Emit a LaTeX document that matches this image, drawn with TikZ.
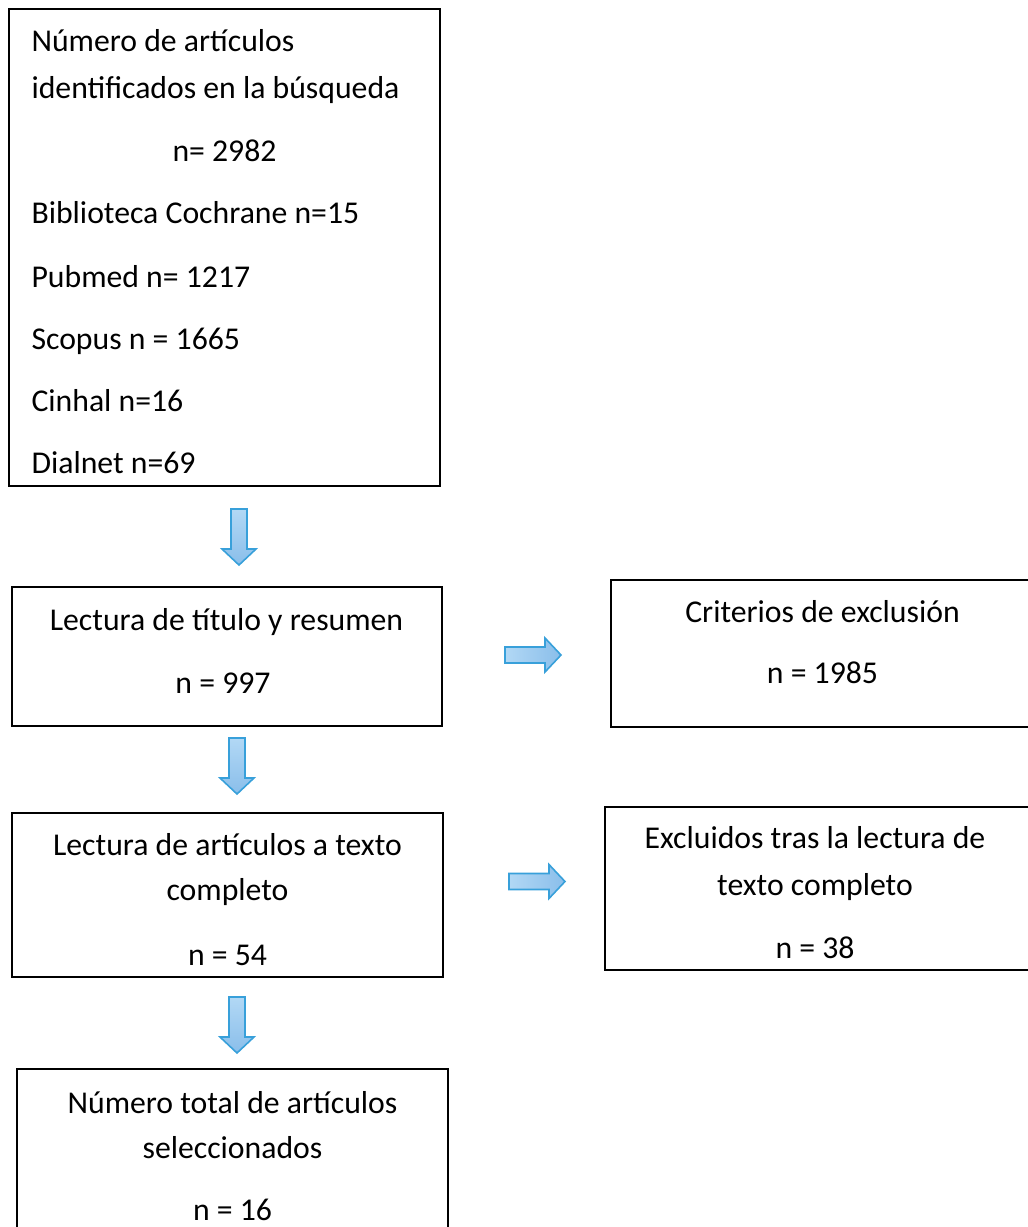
\documentclass[tikz,border=0pt]{standalone}
\usepackage{fontspec}
\setmainfont{Carlito}
\usetikzlibrary{fit}

\definecolor{arrowlight}{RGB}{178,216,245}
\definecolor{arrowdark}{RGB}{138,190,234}
\definecolor{arrowedge}{RGB}{56,160,218}

\tikzset{
  box/.style={draw, line width=0.75pt, inner sep=0pt},
  txt/.style={inner sep=0pt, anchor=base, font=\fontsize{11.9}{14}\selectfont},
  ltxt/.style={txt, anchor=base west},
  blockarrow/.style={draw=arrowedge, line width=0.6pt, line join=miter},
  downarrow/.pic={
    \draw[blockarrow, top color=arrowlight, bottom color=arrowdark]
      (-8,0) -- (8,0) -- (8,40) -- (17,40) -- (0,56) -- (-17,40) -- (-8,40) -- cycle;
  },
  rightarrow/.pic={
    \draw[blockarrow, left color=arrowlight, right color=arrowdark]
      (0,-8) -- (40,-8) -- (40,-17) -- (56,0) -- (40,17) -- (40,8) -- (0,8) -- cycle;
  }
}

\begin{document}
\begin{tikzpicture}[x=0.375pt, y=-0.375pt]
    \useasboundingbox (0,0) rectangle (1028,1227);
    \clip (0,0) rectangle (1028,1227);

    % boxes
    \node[box, fit={(9,9) (440,486)}] (search) {};
    \node[box, fit={(12,587) (442,726)}] (screen) {};
    \node[box, fit={(611,580) (1040,727)}] (excl) {};
    \node[box, fit={(12,813) (443,977)}] (full) {};
    \node[box, fit={(605,807) (1040,970)}] (exclfull) {};
    \node[box, fit={(17,1069) (448,1240)}] (final) {};

    % search box
    \node[ltxt] (s1) at (31,51) {Número de artículos};
    \node[ltxt] (s2) at (31,98) {identificados en la búsqueda};
    \node[txt]  (s3) at (224.5,161) {n= 2982};
    \node[ltxt] (s4) at (31,223) {Biblioteca Cochrane n=15};
    \node[ltxt] (s5) at (31,287) {Pubmed n= 1217};
    \node[ltxt] (s6) at (31,349) {Scopus n = 1665};
    \node[ltxt] (s7) at (31,411) {Cinhal n=16};
    \node[ltxt] (s8) at (31,473) {Dialnet n=69};

    % screening
    \node[txt] (r1) at (226.5,630) {Lectura de título y resumen};
    \node[txt] (r2) at (223,693) {n = 997};

    \node[txt] (e1) at (822.5,622) {Criterios de exclusión};
    \node[txt] (e2) at (822.5,683) {n = 1985};

    % full text
    \node[txt] (f1) at (227.5,855) {Lectura de artículos a texto};
    \node[txt] (f2) at (227.5,900) {completo};
    \node[txt] (f3) at (227.5,965) {n = 54};

    \node[txt] (x1) at (815,848) {Excluidos tras la lectura de};
    \node[txt] (x2) at (815,895) {texto completo};
    \node[txt] (x3) at (815,958) {n = 38};

    % final
    \node[txt] (n1) at (232.5,1113) {Número total de artículos};
    \node[txt] (n2) at (232.5,1158) {seleccionados};
    \node[txt] (n3) at (232.5,1220) {n = 16};

    % arrows
    \pic at (239,509) {downarrow};
    \pic at (237,738) {downarrow};
    \pic at (237,997) {downarrow};
    \pic at (505,655) {rightarrow};
    \pic at (509,881.5) {rightarrow};
\end{tikzpicture}
\end{document}
